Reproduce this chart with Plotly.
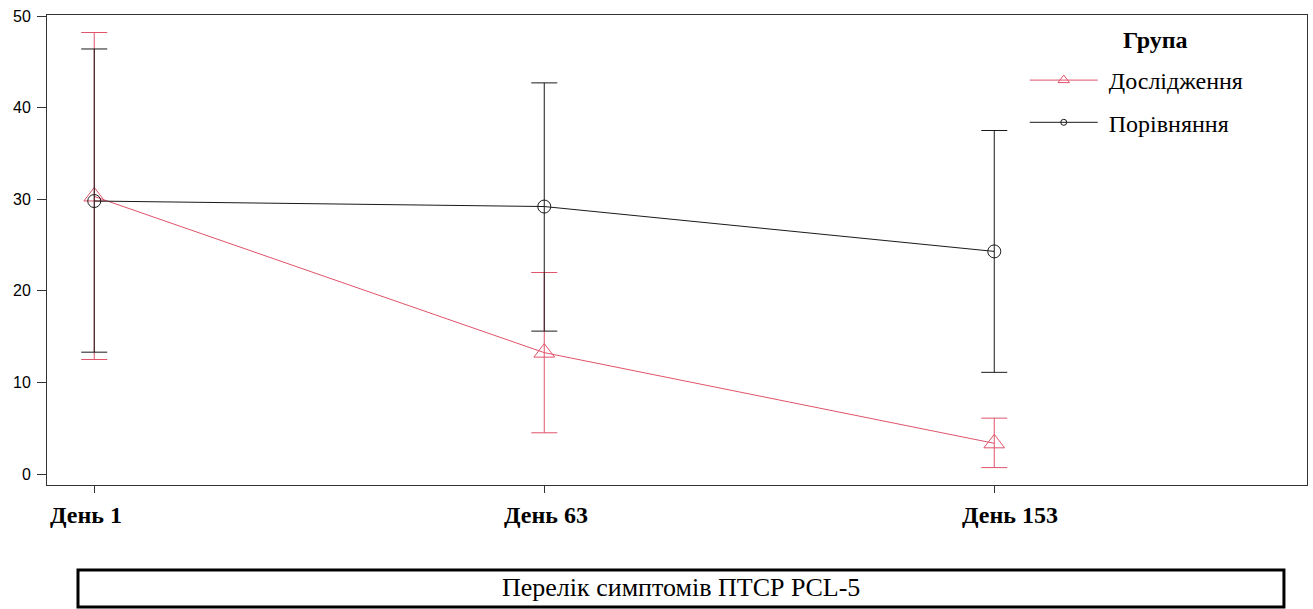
import plotly.graph_objects as go

# Measurement days and group summaries (mean with interval bounds)
days = ["День 1", "День 63", "День 153"]
day_index = [0, 1, 2]

study_name = "Дослідження"
study_mean = [30.3, 13.25, 3.35]
study_upper = [48.2, 22.0, 6.1]
study_lower = [12.5, 4.5, 0.7]

compare_name = "Порівняння"
compare_mean = [29.8, 29.2, 24.3]
compare_upper = [46.4, 42.7, 37.5]
compare_lower = [13.3, 15.6, 11.1]

y_ticks = [0, 10, 20, 30, 40, 50]
label_shift = [-8, 2, 16]

RED = "#DF536B"
BLACK = "#1a1a1a"
FRAME = "#333333"
SERIF = "Liberation Serif"


def bars(mean, upper, lower):
    plus = [u - m for u, m in zip(upper, mean)]
    minus = [m - l for m, l in zip(mean, lower)]
    return plus, minus


fig = go.Figure()

s_plus, s_minus = bars(study_mean, study_upper, study_lower)
fig.add_trace(go.Scatter(
    x=day_index, y=study_mean, mode="lines+markers", showlegend=False,
    line=dict(color=RED, width=1),
    marker=dict(symbol="triangle-up-open", size=18, color=RED, line=dict(width=1, color=RED)),
    error_y=dict(type="data", symmetric=False, array=s_plus, arrayminus=s_minus,
                 color=RED, thickness=1, width=13),
))

c_plus, c_minus = bars(compare_mean, compare_upper, compare_lower)
fig.add_trace(go.Scatter(
    x=day_index, y=compare_mean, mode="lines+markers", showlegend=False,
    line=dict(color=BLACK, width=1),
    marker=dict(symbol="circle-open", size=13, color=BLACK, line=dict(width=1, color=BLACK)),
    error_y=dict(type="data", symmetric=False, array=c_plus, arrayminus=c_minus,
                 color=BLACK, thickness=1, width=13),
))

# Legend entries with the small key symbols
fig.add_trace(go.Scatter(
    x=[None], y=[None], mode="lines+markers", name="\u00a0" + study_name, legendgroup="a",
    line=dict(color=RED, width=1),
    marker=dict(symbol="triangle-up-open", size=10, color=RED, line=dict(width=1, color=RED)),
))
fig.add_trace(go.Scatter(
    x=[None], y=[None], mode="lines+markers", name="\u00a0" + compare_name, legendgroup="b",
    line=dict(color=BLACK, width=1),
    marker=dict(symbol="circle-open", size=6, color=BLACK, line=dict(width=1, color=BLACK)),
))

# Bold day labels under the x ticks
annotations = []
for d, i, sh in zip(days, day_index, label_shift):
    annotations.append(dict(
        x=i, xref="x", y=-0.064, yref="paper", text=f"<b>{d}</b>", showarrow=False,
        xanchor="center", yanchor="middle", xshift=sh,
        font=dict(family=SERIF, size=24, color="black"),
    ))

# Legend heading
annotations.append(dict(
    x=0.8795, xref="paper", y=0.947, yref="paper", text="<b>Група</b>", showarrow=False,
    xanchor="center", yanchor="middle",
    font=dict(family=SERIF, size=24, color="black"),
))

# Caption inside a framed box below the plot
annotations.append(dict(
    x=0.503, xref="paper", y=-0.219, yref="paper", text="Перелік симптомів ПТСР PCL-5",
    showarrow=False, xanchor="center", yanchor="middle",
    font=dict(family=SERIF, size=26, color="black"),
))

fig.update_layout(
    width=1313, height=609,
    margin=dict(l=47, r=6, t=15, b=124),
    paper_bgcolor="white", plot_bgcolor="white",
    showlegend=True,
    legend=dict(
        x=0.776, y=0.9085, xanchor="left", yanchor="top",
        bgcolor="rgba(0,0,0,0)",
        font=dict(family=SERIF, size=24, color="black"),
        itemwidth=68, tracegroupgap=8,
    ),
    annotations=annotations,
    shapes=[dict(
        type="rect", xref="paper", yref="paper",
        x0=0.0246, x1=0.9817, y0=-0.2596, y1=-0.1809,
        line=dict(color="black", width=3), fillcolor="rgba(0,0,0,0)",
    )],
)

fig.update_xaxes(
    range=[-0.105, 2.695], tickvals=day_index, ticktext=days, showticklabels=False,
    ticks="outside", ticklen=7, tickwidth=1, tickcolor=FRAME,
    showline=True, linecolor=FRAME, linewidth=1, mirror=True,
    showgrid=False, zeroline=False,
)
fig.update_yaxes(
    range=[-1.2, 50.11], tickvals=y_ticks,
    ticks="outside", ticklen=9, tickwidth=1, tickcolor=FRAME,
    tickfont=dict(family="Liberation Sans", size=16, color="black"),
    ticklabelstandoff=3,
    showline=True, linecolor=FRAME, linewidth=1, mirror=True,
    showgrid=False, zeroline=False,
)

fig.write_html("out.html")
